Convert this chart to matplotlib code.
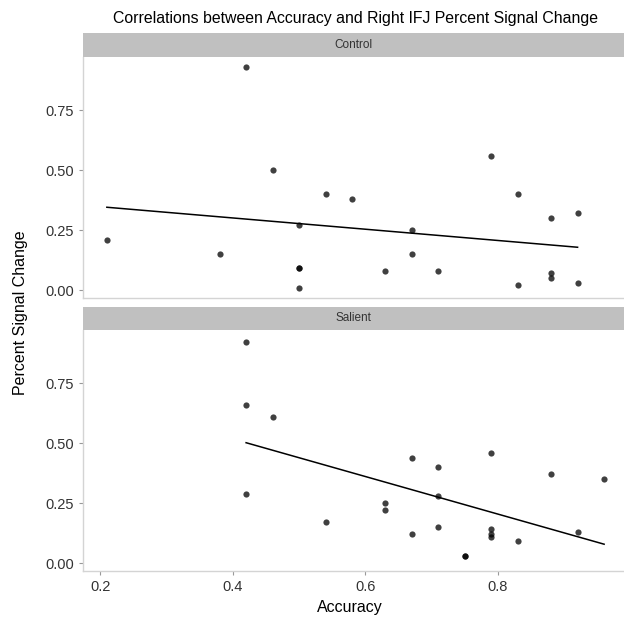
import numpy as np
import matplotlib
matplotlib.use("Agg")
import matplotlib.pyplot as plt

plt.rcParams["font.family"] = ["Liberation Sans", "DejaVu Sans"]

# accuracy / percent signal change, one point per subject
control_acc = [0.21, 0.38, 0.42, 0.46, 0.54, 0.58, 0.50, 0.50, 0.50, 0.50, 0.67,
               0.67, 0.63, 0.71, 0.79, 0.83, 0.83, 0.88, 0.88, 0.88, 0.92, 0.92]
control_psc = [0.21, 0.15, 0.93, 0.50, 0.40, 0.38, 0.27, 0.09, 0.09, 0.01, 0.25,
               0.15, 0.08, 0.08, 0.56, 0.40, 0.02, 0.30, 0.07, 0.05, 0.32, 0.03]

salient_acc = [0.42, 0.42, 0.42, 0.46, 0.54, 0.67, 0.67, 0.71, 0.71, 0.71, 0.63,
               0.63, 0.79, 0.79, 0.79, 0.79, 0.83, 0.75, 0.75, 0.88, 0.92, 0.96]
salient_psc = [0.92, 0.66, 0.29, 0.61, 0.17, 0.44, 0.12, 0.40, 0.28, 0.15, 0.25,
               0.22, 0.46, 0.14, 0.12, 0.11, 0.09, 0.03, 0.03, 0.37, 0.13, 0.35]

panels = ["Control", "Salient"]
x_ticks = [0.2, 0.4, 0.6, 0.8]
y_ticks = [0.0, 0.25, 0.5, 0.75]
y_tick_labels = ["0.00", "0.25", "0.50", "0.75"]

fig = plt.figure(figsize=(6.24, 6.26), dpi=100)

left, width = 0.133, 0.867
axes_boxes = [(0.5240, 0.3854), (0.0879, 0.3849)]
strip_boxes = [(0.9094, 0.0379), (0.4728, 0.0372)]
data = [(control_acc, control_psc), (salient_acc, salient_psc)]

axis_grey = "#d4d4d4"
text_grey = "#333333"

for i, name in enumerate(panels):
    xs, ys = np.array(data[i][0]), np.array(data[i][1])
    ax = fig.add_axes([left, axes_boxes[i][0], width, axes_boxes[i][1]])
    ax.scatter(xs, ys, s=20, color="black", alpha=0.75, linewidths=0, zorder=3)

    slope, intercept = np.polyfit(xs, ys, 1)
    fx = np.array([xs.min(), xs.max()])
    ax.plot(fx, intercept + slope * fx, color="black", lw=1.1, zorder=2)

    ax.set_xlim(0.174, 0.99)
    ax.set_ylim(-0.033, 0.972)
    ax.set_yticks(y_ticks)
    ax.set_yticklabels(y_tick_labels)
    ax.set_xticks(x_ticks)
    for side in ["top", "right"]:
        ax.spines[side].set_visible(False)
    for side in ["left", "bottom"]:
        ax.spines[side].set_color(axis_grey)
        ax.spines[side].set_linewidth(1.0)
    ax.tick_params(colors="#999999", labelcolor=text_grey, labelsize=10.5,
                   length=3, width=0.8)
    if i == 0:
        ax.tick_params(axis="x", length=0, labelbottom=False)

    sax = fig.add_axes([left, strip_boxes[i][0], width, strip_boxes[i][1]])
    sax.set_facecolor("#c0c0c0")
    sax.set_xticks([])
    sax.set_yticks([])
    for sp in sax.spines.values():
        sp.set_visible(False)
    sax.text(0.5, 0.5, name, ha="center", va="center", fontsize=8.5,
             color=text_grey, transform=sax.transAxes)

fig.text(0.569, 0.971, "Correlations between Accuracy and Right IFJ Percent Signal Change",
         ha="center", va="center", fontsize=11.4, color="black")
fig.text(0.033, 0.5, "Percent Signal Change", ha="center", va="center",
         rotation=90, fontsize=11.5, color="black")
fig.text(0.56, 0.03, "Accuracy", ha="center", va="center", fontsize=11.5,
         color="black")

fig.savefig("out.png", dpi=100)
